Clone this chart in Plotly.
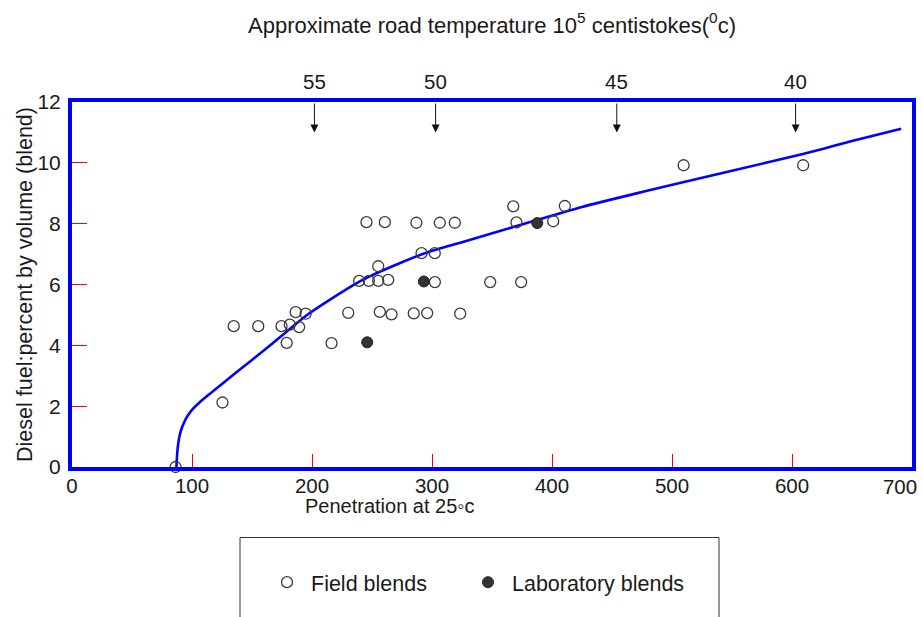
import plotly.graph_objects as go

# ---- data ----
field_x = [86.3, 125.4, 134.8, 155.2, 174.6, 181.5, 189.3, 178.9, 216.3, 186.4, 194.7,
           230.2, 256.5, 266.3, 284.8, 296.0, 323.5, 239.3, 247.4, 255.2, 263.5, 302.4,
           348.5, 374.3, 255.2, 291.3, 302.3, 245.4, 260.7, 287.0, 306.5, 319.0, 370.4,
           401.0, 367.7, 410.7, 509.7, 609.3]
field_y = [0.0, 2.12, 4.63, 4.63, 4.63, 4.68, 4.6, 4.08, 4.07, 5.09, 5.04,
           5.07, 5.1, 5.02, 5.05, 5.06, 5.04, 6.12, 6.12, 6.12, 6.15, 6.08,
           6.08, 6.08, 6.6, 7.03, 7.03, 8.05, 8.05, 8.03, 8.03, 8.03, 8.04,
           8.08, 8.57, 8.58, 9.92, 9.92]

lab_x = [246.0, 293.2, 387.7]
lab_y = [4.1, 6.1, 8.02]

curve_x = [87, 87.5, 88.3, 89.5, 91.2, 93.5, 96, 100, 106.5, 115, 125, 136, 150, 164,
           180, 197, 216, 241, 270, 297, 325, 360, 391, 425, 475, 510, 550, 610, 650, 691]
curve_y = [0, 0.35, 0.7, 1.0, 1.25, 1.47, 1.66, 1.88, 2.13, 2.41, 2.73, 3.08, 3.52, 3.96,
           4.49, 5.03, 5.53, 6.13, 6.65, 7.07, 7.39, 7.8, 8.16, 8.55, 9.04, 9.37, 9.74,
           10.3, 10.72, 11.12]

temp_labels = ["55", "50", "45", "40"]
temp_pen = [202, 303, 454, 603]

x_ticks = [0, 100, 200, 300, 400, 500, 600]
x_end_tick = [700]
x_marks = [100, 200, 300, 400, 500, 600]
y_ticks = [0, 2, 4, 6, 8, 10, 12]
y_marks = [2, 4, 6, 8, 10]

FONT = "Liberation Sans, Arial, sans-serif"
TXT = "#1a1a1a"

fig = go.Figure()

fig.add_trace(go.Scatter(
    x=curve_x, y=curve_y, mode="lines",
    line=dict(color="#0000ff", width=2.6, shape="spline", smoothing=0.6),
    showlegend=False, hoverinfo="skip", xaxis="x", yaxis="y"))

fig.add_trace(go.Scatter(
    x=[], y=[], mode="markers", showlegend=False, hoverinfo="skip",
    xaxis="x3", yaxis="y"))

fig.add_trace(go.Scatter(
    x=field_x, y=field_y, mode="markers", name="Field blends",
    marker=dict(symbol="circle-open", size=11, color="#3a3a3a", line=dict(width=1.3)),
    cliponaxis=False, xaxis="x2", yaxis="y2", legend="legend"))

fig.add_trace(go.Scatter(
    x=lab_x, y=lab_y, mode="markers", name="Laboratory blends",
    marker=dict(symbol="circle", size=11, color="#333333",
                line=dict(color="#222222", width=1)),
    cliponaxis=False, xaxis="x2", yaxis="y2", legend="legend2"))

annotations = []
for lab, xp in zip(temp_labels, temp_pen):
    annotations.append(dict(
        x=xp, y=11.0, ax=xp, ay=12, xref="x", yref="y", axref="x", ayref="y",
        text="", showarrow=True, arrowhead=2, arrowsize=1.6, arrowwidth=1,
        arrowcolor="#111111", standoff=0, startstandoff=0))
    annotations.append(dict(
        x=xp, y=1.056, xref="x", yref="paper", text=lab, showarrow=False,
        yanchor="middle", font=dict(size=20.5, color=TXT, family=FONT)))

annotations.append(dict(
    x=0.378, y=(466.5 - 505) / 365, xref="paper", yref="paper",
    text="Penetration at 25\u25e6c",
    showarrow=False, yanchor="middle", xanchor="center",
    font=dict(size=20, color=TXT, family=FONT)))

legend_common = dict(orientation="h", y=(466.5 - 581.7) / 365, xanchor="left",
                     yanchor="middle", font=dict(size=21.5, color=TXT, family=FONT),
                     bgcolor="rgba(0,0,0,0)", borderwidth=0, itemwidth=38)

xtick_common = dict(range=[0, 700], ticks="", showgrid=False, zeroline=False,
                    tickfont=dict(size=20.5), ticklabeloverflow="allow",
                    automargin=False)

fig.update_layout(
    width=923, height=617,
    margin=dict(l=72, r=11, t=102, b=150, autoexpand=False),
    paper_bgcolor="white", plot_bgcolor="white",
    font=dict(family=FONT, size=20, color=TXT),
    title=dict(text="Approximate road temperature 10<sup>5</sup> centistokes(<sup>0</sup>c)",
               x=0.5, xref="paper", xanchor="center",
               y=1 - 25 / 617, yref="container", yanchor="middle",
               font=dict(size=22, color=TXT, family=FONT)),
    xaxis=dict(tickvals=x_ticks, showline=True, linecolor="#0000ff", linewidth=4,
               mirror=True, ticklabelstandoff=-3, **xtick_common),
    xaxis3=dict(tickvals=x_end_tick, overlaying="x", anchor="y", side="bottom",
                showline=False, ticklabelshift=-12, ticklabelstandoff=5,
                **xtick_common),
    yaxis=dict(range=[0, 12], tickvals=y_ticks, ticks="",
               showline=True, linecolor="#0000ff", linewidth=4, mirror=True,
               showgrid=False, zeroline=False, tickfont=dict(size=21),
               ticklabelstandoff=3, automargin=False,
               title=dict(text="Diesel fuel:percent by volume (blend)",
                          font=dict(size=21.5), standoff=0)),
    xaxis2=dict(range=[0, 700], overlaying="x", anchor="y2", side="bottom",
                tickvals=x_marks, ticks="inside", ticklen=13, tickcolor="#ff0000",
                tickwidth=1, showticklabels=False, showline=False, showgrid=False,
                zeroline=False, automargin=False),
    yaxis2=dict(range=[0, 12], overlaying="y", anchor="x2", side="left",
                tickvals=y_marks, ticks="inside", ticklen=15, tickcolor="#ff0000",
                tickwidth=1, showticklabels=False, showline=False, showgrid=False,
                zeroline=False, automargin=False),
    legend=dict(x=(263 - 72) / 840, **legend_common),
    legend2=dict(x=(464 - 72) / 840, **legend_common),
    shapes=[dict(type="rect", xref="paper", yref="paper", x0=(240 - 72) / 840,
                 x1=(719 - 72) / 840, y0=(466.5 - 537) / 365, y1=-0.6,
                 line=dict(color="#333333", width=1),
                 fillcolor="rgba(0,0,0,0)", layer="above")],
    annotations=annotations,
)

fig.write_html("out.html", config={"displayModeBar": False},
               post_script="document.body.style.margin='0px';")
